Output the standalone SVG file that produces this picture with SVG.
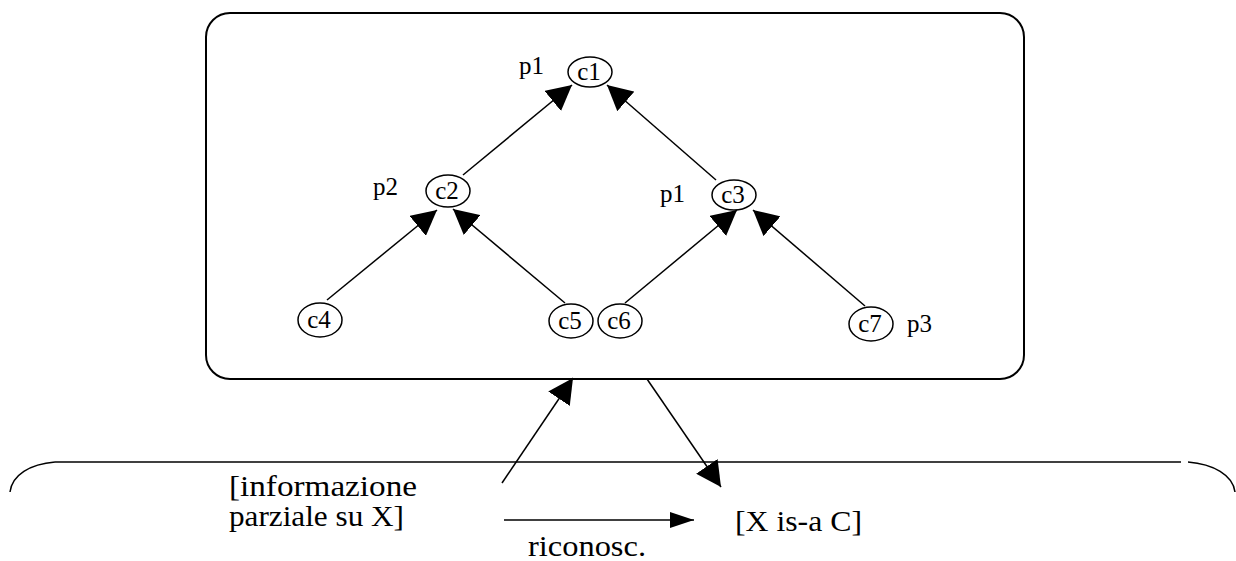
<svg xmlns="http://www.w3.org/2000/svg" width="1236" height="561" viewBox="0 0 1236 561">
<defs>
<style>
.ln{stroke:#000;stroke-width:1.5;fill:none}
.nd{stroke:#000;stroke-width:1.5;fill:#fff}
text{font-family:'Liberation Serif','DejaVu Serif',serif;fill:#000}
.s{font-size:25px}
.b{font-size:30px}
</style>
<marker id="ah" viewBox="0 0 25 26" markerWidth="25" markerHeight="26" refX="25" refY="13" orient="auto" markerUnits="userSpaceOnUse"><path d="M0,0 L25,13 L0,26 z" fill="#000"/></marker>
<marker id="ahn" viewBox="0 0 24 16" markerWidth="24" markerHeight="16" refX="24" refY="8" orient="auto" markerUnits="userSpaceOnUse"><path d="M0,0 L24,8 L0,16 z" fill="#000"/></marker>
</defs>
<rect x="206" y="13" width="818" height="366" rx="24" ry="24" fill="none" stroke="#000" stroke-width="2"/>
<g id="brace">
<path class="ln" d="M55,462 L1181,462"/>
<path class="ln" d="M55,462 C30,464 12,475 10,492"/>
<path class="ln" d="M1188,462 C1213,464 1233,475 1235,492"/>
</g>
<g id="connectors">
<line class="ln" x1="463" y1="175" x2="572" y2="85" marker-end="url(#ah)"/>
<line class="ln" x1="716" y1="180" x2="607" y2="85" marker-end="url(#ah)"/>
<line class="ln" x1="327" y1="300" x2="437" y2="210" marker-end="url(#ah)"/>
<line class="ln" x1="565" y1="303" x2="453" y2="209" marker-end="url(#ah)"/>
<line class="ln" x1="625" y1="303" x2="737" y2="210" marker-end="url(#ah)"/>
<line class="ln" x1="865" y1="306" x2="753" y2="210" marker-end="url(#ah)"/>
<line class="ln" x1="502" y1="483" x2="573" y2="378" marker-end="url(#ah)"/>
<line class="ln" x1="647" y1="379" x2="721" y2="487" marker-end="url(#ah)"/>
<line class="ln" x1="504" y1="520" x2="694" y2="520" marker-end="url(#ahn)"/>
</g>
<g id="c1"><ellipse class="nd" cx="590" cy="72" rx="22" ry="15"/><text class="s" x="589" y="80" text-anchor="middle">c1</text></g>
<g id="c2"><ellipse class="nd" cx="448" cy="191" rx="22" ry="16"/><text class="s" x="447" y="199" text-anchor="middle">c2</text></g>
<g id="c3"><ellipse class="nd" cx="734" cy="195" rx="22" ry="15"/><text class="s" x="733" y="203" text-anchor="middle">c3</text></g>
<g id="c4"><ellipse class="nd" cx="320" cy="320" rx="22" ry="17"/><text class="s" x="319" y="328" text-anchor="middle">c4</text></g>
<g id="c5"><ellipse class="nd" cx="571" cy="321" rx="22" ry="17"/><text class="s" x="570" y="329" text-anchor="middle">c5</text></g>
<g id="c6"><ellipse class="nd" cx="620" cy="321" rx="22" ry="17"/><text class="s" x="619" y="329" text-anchor="middle">c6</text></g>
<g id="c7"><ellipse class="nd" cx="871" cy="324" rx="22" ry="17"/><text class="s" x="870" y="332" text-anchor="middle">c7</text></g>
<g id="labels">
<text class="s" x="519" y="74">p1</text>
<text class="s" x="373" y="195">p2</text>
<text class="s" x="660" y="202">p1</text>
<text class="s" x="907" y="332">p3</text>
</g>
<g id="texts">
<text class="b" x="229" y="496" textLength="188" lengthAdjust="spacingAndGlyphs">[informazione</text>
<text class="b" x="229" y="526" textLength="175" lengthAdjust="spacingAndGlyphs">parziale su X]</text>
<text class="b" x="528" y="556" textLength="118" lengthAdjust="spacingAndGlyphs">riconosc.</text>
<text class="b" x="735" y="531" textLength="127" lengthAdjust="spacingAndGlyphs">[X is-a C]</text>
</g>
</svg>
